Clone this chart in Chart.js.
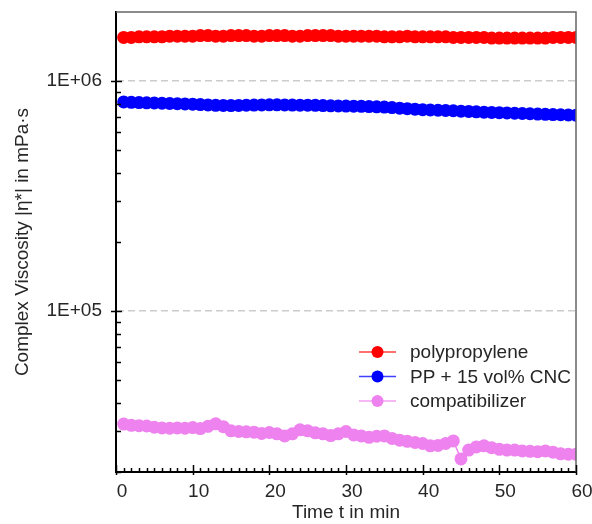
<!doctype html>
<html lang="en">
<head>
<meta charset="UTF-8">
<title>Complex Viscosity</title>
<style>
  html, body { margin: 0; padding: 0; background: #fff; }
</style>
</head>
<body>
<canvas id="visc" width="592" height="524"></canvas>
<script src="https://cdn.jsdelivr.net/npm/chart.js@4/dist/chart.umd.min.js"></script>
<script>
// time in min
const timeMin = [1, 2, 3, 4, 5, 6, 7, 8, 9, 10,
  11, 12, 13, 14, 15, 16, 17, 18, 19, 20,
  21, 22, 23, 24, 25, 26, 27, 28, 29, 30,
  31, 32, 33, 34, 35, 36, 37, 38, 39, 40,
  41, 42, 43, 44, 45, 46, 47, 48, 49, 50,
  51, 52, 53, 54, 55, 56, 57, 58, 59, 60];

// complex viscosity in mPa·s
const polypropylene = [1.55e6, 1.55e6, 1.56e6, 1.56e6, 1.56e6, 1.56e6, 1.57e6, 1.57e6, 1.57e6, 1.57e6,
  1.58e6, 1.58e6, 1.57e6, 1.57e6, 1.58e6, 1.58e6, 1.58e6, 1.57e6, 1.57e6, 1.58e6,
  1.58e6, 1.58e6, 1.57e6, 1.57e6, 1.58e6, 1.58e6, 1.58e6, 1.58e6, 1.57e6, 1.57e6,
  1.57e6, 1.57e6, 1.57e6, 1.57e6, 1.56e6, 1.56e6, 1.56e6, 1.57e6, 1.56e6, 1.56e6,
  1.56e6, 1.56e6, 1.56e6, 1.55e6, 1.55e6, 1.55e6, 1.55e6, 1.55e6, 1.54e6, 1.54e6,
  1.54e6, 1.54e6, 1.54e6, 1.54e6, 1.54e6, 1.54e6, 1.55e6, 1.55e6, 1.55e6, 1.55e6];

const ppCnc = [8.13e5, 8.10e5, 8.08e5, 8.06e5, 8.04e5, 8.02e5, 8.00e5, 7.98e5, 7.97e5, 7.95e5,
  7.92e5, 7.89e5, 7.86e5, 7.85e5, 7.84e5, 7.85e5, 7.87e5, 7.88e5, 7.89e5, 7.90e5,
  7.90e5, 7.89e5, 7.88e5, 7.87e5, 7.87e5, 7.86e5, 7.84e5, 7.82e5, 7.81e5, 7.80e5,
  7.79e5, 7.78e5, 7.76e5, 7.74e5, 7.72e5, 7.68e5, 7.64e5, 7.60e5, 7.56e5, 7.52e5,
  7.50e5, 7.48e5, 7.46e5, 7.44e5, 7.41e5, 7.39e5, 7.36e5, 7.34e5, 7.32e5, 7.30e5,
  7.28e5, 7.26e5, 7.24e5, 7.22e5, 7.20e5, 7.18e5, 7.16e5, 7.15e5, 7.13e5, 7.12e5];

const compatibilizer = [32300, 31900, 31800, 31700, 31300, 31100, 31000, 31100, 31000, 31200,
  30900, 31600, 32400, 31500, 30200, 30000, 29900, 29800, 29400, 29700,
  29300, 28700, 29300, 30500, 30200, 29600, 29300, 28800, 29300, 30000,
  29000, 28700, 28300, 28600, 28700, 28000, 27500, 27200, 26900, 26600,
  26000, 26100, 26600, 27300, 22800, 24900, 25700, 26000, 25500, 25100,
  24900, 24900, 24700, 24600, 24500, 24700, 24400, 24000, 23900, 23900];

const seriesNames = ['polypropylene', 'PP + 15 vol% CNC', 'compatibilizer'];
const seriesColors = ['#ff0000', '#0000ff', '#ee82ee'];

const yTickValues = [1e5, 1e6];
const yTickLabels = ['1E+05', '1E+06'];
const xTickValues = [0, 10, 20, 30, 40, 50, 60];

const FONT = "'Liberation Sans', Arial, sans-serif";
const TEXT = '#262626';

function pts(ys) {
  return timeMin.map((t, i) => ({ x: t, y: ys[i] }));
}

// y ticks: every 1..9 x decade, only the decades get a label
function logTicks(min, max) {
  const out = [];
  for (let d = Math.pow(10, Math.floor(Math.log10(min))); d <= max; d *= 10) {
    for (let m = 1; m < 10; m++) {
      const v = m * d;
      if (v >= min - 1e-9 && v <= max + 1e-9) out.push({ value: v });
    }
  }
  return out;
}

// inward tick marks, top/right frame and the legend
const framePlugin = {
  id: 'frame',
  afterDraw(chart) {
    const { ctx, chartArea: a, scales } = chart;
    ctx.save();
    ctx.strokeStyle = '#666';
    ctx.lineWidth = 1.5;
    ctx.beginPath();
    ctx.moveTo(a.left, a.top);
    ctx.lineTo(a.right, a.top);
    ctx.lineTo(a.right, a.bottom);
    ctx.stroke();

    ctx.strokeStyle = '#000';
    ctx.lineWidth = 1.5;
    ctx.beginPath();
    scales.y.ticks.forEach(t => {
      const y = Math.round(scales.y.getPixelForValue(t.value)) + 0.5;
      if (y < a.top + 2) return;
      const major = yTickValues.includes(t.value);
      ctx.moveTo(a.left - (major ? 5 : 0), y);
      ctx.lineTo(a.left + (major ? 6 : 5), y);
    });
    for (let v = 0; v <= 60; v++) {
      const x = Math.round(scales.x.getPixelForValue(v)) + 0.5;
      const major = xTickValues.includes(v);
      ctx.moveTo(x, a.bottom + (major ? 3 : 0));
      ctx.lineTo(x, a.bottom - (major ? 7 : 4));
    }
    ctx.stroke();

    // legend
    const lx = a.left + 243, ly = a.top + 340, row = 24.5;
    ctx.font = '19px ' + FONT;
    ctx.textBaseline = 'middle';
    chart.data.datasets.forEach((ds, i) => {
      const y = ly + i * row;
      ctx.globalAlpha = 0.75;
      ctx.strokeStyle = ds.borderColor;
      ctx.lineWidth = 1.5;
      ctx.beginPath();
      ctx.moveTo(lx, y);
      ctx.lineTo(lx + 37, y);
      ctx.stroke();
      ctx.globalAlpha = 1;
      ctx.fillStyle = ds.pointBackgroundColor;
      ctx.beginPath();
      ctx.arc(lx + 18.5, y, 6, 0, Math.PI * 2);
      ctx.fill();
      ctx.fillStyle = TEXT;
      ctx.fillText(ds.label, lx + 51, y + 1);
    });
    ctx.restore();
  }
};

new Chart(document.getElementById('visc'), {
  type: 'line',
  data: {
    datasets: [polypropylene, ppCnc, compatibilizer].map((ys, i) => ({
      label: seriesNames[i],
      data: pts(ys),
      borderColor: seriesColors[i],
      backgroundColor: seriesColors[i],
      pointBackgroundColor: seriesColors[i],
      pointBorderWidth: 0,
      pointRadius: 6.5,
      borderWidth: 1.5,
      tension: 0
    }))
  },
  options: {
    responsive: false,
    animation: false,
    layout: { padding: { top: 12, right: 16, left: 0, bottom: 0 } },
    plugins: { legend: { display: false }, tooltip: { enabled: false } },
    scales: {
      x: {
        type: 'linear',
        min: 0,
        max: 60,
        afterFit: s => { s.height = 52; s.paddingLeft = 0; s.paddingRight = 0; },
        afterBuildTicks: s => { s.ticks = xTickValues.map(v => ({ value: v })); },
        grid: { display: false, drawTicks: false },
        border: { display: true, color: '#000', width: 2 },
        ticks: {
          color: TEXT,
          font: { family: FONT, size: 19 },
          padding: 8,
          labelOffset: 6,
          maxRotation: 0,
          autoSkip: false
        },
        title: {
          display: true,
          text: 'Time t in min',
          color: TEXT,
          font: { family: FONT, size: 19 },
          padding: { top: 0, bottom: 0 }
        }
      },
      y: {
        type: 'logarithmic',
        min: 2e4,
        max: 2e6,
        afterFit: s => { s.width = 116; s.paddingTop = 0; s.paddingBottom = 0; },
        afterBuildTicks: s => { s.ticks = logTicks(s.min, s.max); },
        grid: {
          drawTicks: false,
          lineWidth: 1.5,
          color: c => (c.tick && yTickValues.includes(c.tick.value)) ? '#cccccc' : 'rgba(0,0,0,0)'
        },
        border: { display: true, color: '#000', width: 2, dash: [7, 4] },
        ticks: {
          color: TEXT,
          font: { family: FONT, size: 19 },
          padding: 14,
          autoSkip: false,
          callback: v => {
            const k = yTickValues.indexOf(v);
            return k >= 0 ? yTickLabels[k] : '';
          }
        },
        title: {
          display: true,
          text: 'Complex Viscosity |η*| in mPa·s',
          color: TEXT,
          font: { family: FONT, size: 19 },
          padding: { top: 11, bottom: 0 }
        }
      }
    }
  },
  plugins: [framePlugin]
});
</script>
</body>
</html>
